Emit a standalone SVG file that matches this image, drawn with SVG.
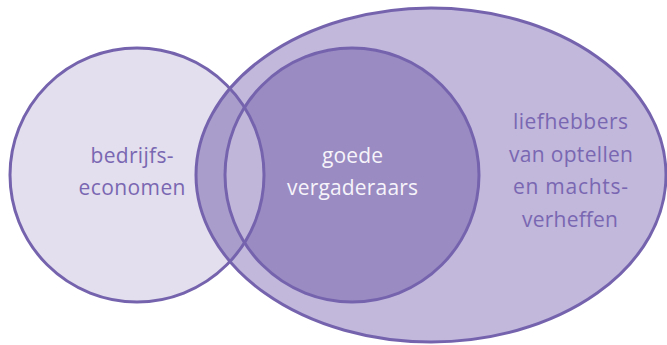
<svg xmlns="http://www.w3.org/2000/svg" width="667" height="345" viewBox="0 0 667 345">
<style>
.outline{fill:none;stroke:#7563ae;stroke-width:3}
.lbl{font-family:"Open Sans","Liberation Sans",sans-serif;font-size:21px;text-anchor:middle}
.purple{fill:#7a67b2}
.white{fill:#f6f4fa}
</style>
<defs>
<clipPath id="clipLeft"><circle cx="137" cy="175" r="127"/></clipPath>
</defs>
<rect width="667" height="345" fill="#ffffff"/>
<g id="node-liefhebbers">
<ellipse cx="431" cy="175" rx="235" ry="167" fill="#c1b8dc"/>
</g>
<g id="node-vergaderaars">
<circle cx="352" cy="175" r="127" fill="#9a8bc2"/>
</g>
<g id="node-bedrijfseconomen">
<circle cx="137" cy="175" r="127" fill="#e3dfee"/>
<g clip-path="url(#clipLeft)">
<ellipse cx="431" cy="175" rx="235" ry="167" fill="#a99ecb"/>
<circle cx="352" cy="175" r="127" fill="#c0b6da"/>
</g>
</g>
<g id="outlines">
<ellipse class="outline" cx="431" cy="175" rx="235" ry="167"/>
<circle class="outline" cx="352" cy="175" r="127"/>
<circle class="outline" cx="137" cy="175" r="127"/>
</g>
<g id="labels">
<text class="lbl purple" x="132" y="163" textLength="83">bedrijfs-</text>
<text class="lbl purple" x="132" y="195" textLength="107">economen</text>
<text class="lbl white" x="352.5" y="163" textLength="61">goede</text>
<text class="lbl white" x="352.5" y="195" textLength="131">vergaderaars</text>
<text class="lbl purple" x="570.5" y="129" textLength="115">liefhebbers</text>
<text class="lbl purple" x="571" y="162" textLength="124">van optellen</text>
<text class="lbl purple" x="570.5" y="194" textLength="115">en machts-</text>
<text class="lbl purple" x="570" y="227" textLength="96">verheffen</text>
</g>
</svg>
